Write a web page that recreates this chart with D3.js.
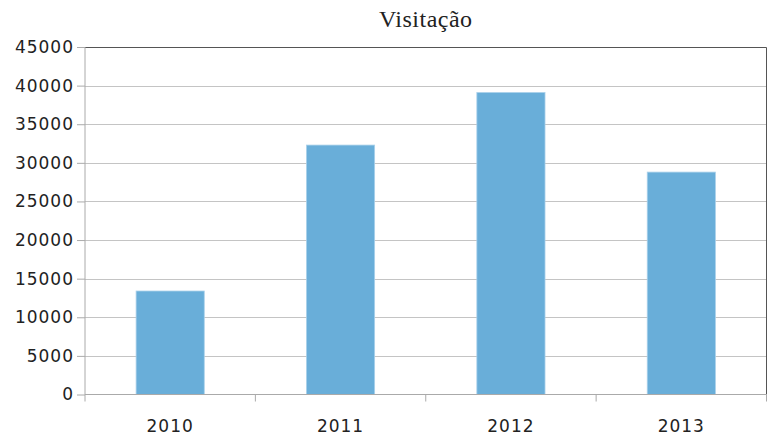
<!DOCTYPE html>
<html>
<head>
<meta charset="utf-8">
<script src="https://cdn.jsdelivr.net/npm/d3@7"></script>
<style>
  body { margin: 0; background: #fff; }
  .tick text { font-family: "DejaVu Sans", sans-serif; font-size: 17px; fill: #222; letter-spacing: 1px; }
</style>
</head>
<body>
<div id="chart"></div>
<script>
;(function () {

    var years = ['2010', '2011', '2012', '2013'];
    var visits = [13400, 32300, 39100, 28800];
    var yTicks = [0, 5000, 10000, 15000, 20000, 25000, 30000, 35000, 40000, 45000];

    var width = 771
        , height = 435
        , margin = {top: 47, right: 4.5, bottom: 40.5, left: 85};

    var svg = d3.select('#chart').append('svg')
        .attr('width', width)
        .attr('height', height);

    var x = d3.scaleBand()
        .domain(years)
        .range([margin.left, width - margin.right])
        .paddingInner(0.6)
        .paddingOuter(0.3);

    var y = d3.scaleLinear()
        .domain([0, 45000])
        .range([height - margin.bottom, margin.top]);

    // gridlines
    svg.append('g')
        .selectAll('line')
        .data(yTicks.slice(1, -1))
        .enter().append('line')
        .attr('x1', margin.left)
        .attr('x2', width - margin.right)
        .attr('y1', function (d) { return Math.round(y(d)) + 0.5; })
        .attr('y2', function (d) { return Math.round(y(d)) + 0.5; })
        .attr('stroke', '#c4c4c4')
        .attr('stroke-width', 1);

    // top and right border
    svg.append('path')
        .attr('d', 'M' + margin.left + ',' + (margin.top + 0.5) +
            'H' + (width - margin.right) + 'V' + (height - margin.bottom))
        .attr('fill', 'none')
        .attr('stroke', '#555')
        .attr('stroke-width', 1);

    svg.selectAll('.bar')
        .data(visits)
        .enter().append('rect')
        .attr('class', 'bar')
        .attr('x', function (d, i) { return x(years[i]); })
        .attr('width', x.bandwidth())
        .attr('y', function (d) { return y(d); })
        .attr('height', function (d) { return y(0) - y(d); })
        .attr('fill', '#69aed9')
        .attr('stroke', '#a9d0ea')
        .attr('stroke-width', 0.8);

    // y axis
    var yAxis = svg.append('g')
        .attr('transform', 'translate(' + margin.left + ',0)')
        .call(d3.axisLeft(y).tickValues(yTicks).tickSize(8).tickPadding(3).tickFormat(d3.format('d')));
    yAxis.select('.domain').remove();
    yAxis.selectAll('.tick line').attr('stroke', '#aaa');
    yAxis.append('line')
        .attr('x1', 0).attr('x2', 0)
        .attr('y1', margin.top).attr('y2', height - margin.bottom + 7)
        .attr('stroke', '#aaa');

    // x axis with ticks on category boundaries
    var xAxis = svg.append('g')
        .attr('transform', 'translate(0,' + y(0) + ')');
    xAxis.append('line')
        .attr('x1', margin.left).attr('x2', width - margin.right)
        .attr('stroke', '#aaa');
    var step = x.step();
    xAxis.selectAll('.sep')
        .data(years.slice(1).concat(['end']))
        .enter().append('line')
        .attr('class', 'sep')
        .attr('x1', function (d, i) { return margin.left + step * (i + 1); })
        .attr('x2', function (d, i) { return margin.left + step * (i + 1); })
        .attr('y1', 0).attr('y2', 7)
        .attr('stroke', '#aaa');
    xAxis.selectAll('.lbl')
        .data(years)
        .enter().append('text')
        .attr('class', 'lbl')
        .attr('x', function (d) { return x(d) + x.bandwidth() / 2; })
        .attr('y', 37)
        .attr('text-anchor', 'middle')
        .style('font-family', '"DejaVu Sans", sans-serif')
        .style('font-size', '17px')
        .style('letter-spacing', '1px')
        .attr('fill', '#222')
        .text(function (d) { return d; });

    svg.append('text')
        .attr('x', (margin.left + width - margin.right) / 2)
        .attr('y', 27)
        .attr('text-anchor', 'middle')
        .style('font-family', '"Liberation Serif", serif')
        .style('font-size', '24px')
        .style('letter-spacing', '0.5px')
        .attr('fill', '#222')
        .text('Visitação');

}());
</script>
</body>
</html>
